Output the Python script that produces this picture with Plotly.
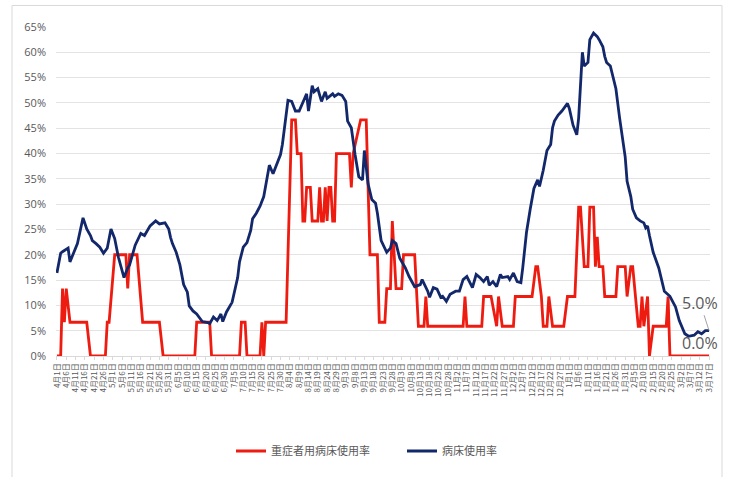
import pandas as pd
import plotly.graph_objects as go

START = "2021-04-01"

# 病床使用率 (navy) : day offset from 4/1, value in %
bed_days = [0, 2, 3, 6, 7, 9, 11, 14, 16, 18, 19, 21, 23, 25, 27, 29, 31, 33, 35, 36, 38, 39, 42, 45, 47, 50, 53, 55, 58,
            60, 61, 62, 64, 66, 68, 70, 71, 73, 75, 77, 78, 81, 82, 84, 86, 88, 89, 91, 94, 97, 98, 100, 102, 104, 105,
            107, 109, 111, 112, 114, 116, 118, 120, 121, 123, 124, 126, 128, 130, 132, 134, 135, 137, 138, 140, 142,
            144, 145, 148, 149, 151, 153, 155, 156, 158, 160, 162, 164, 165, 167, 169, 171, 172, 174, 177, 179, 180,
            182, 184, 187, 189, 192, 195, 196, 199, 200, 202, 204, 206, 207, 209, 211, 214, 216, 218, 220, 223, 225,
            227, 229, 231, 232, 234, 236, 238, 239, 242, 243, 245, 247, 249, 250, 252, 254, 256, 258, 259, 261, 263,
            265, 266, 267, 269, 271, 274, 275, 277, 279, 280, 282, 283, 285, 286, 288, 290, 291, 293, 294, 295, 297,
            300, 302, 305, 306, 308, 309, 311, 313, 315, 316, 317, 318, 320, 323, 325, 326, 329, 332, 334, 337, 339,
            341, 342, 344, 346, 348, 350]
bed_vals = [16.4, 20.3, 20.6, 21.3, 18.6, 20.5, 22.2, 27.3, 25.1, 23.8, 22.8, 22.2, 21.5, 20.3, 21.3, 25.1, 23.2, 19.5,
            16.6, 15.5, 17.4, 18.0, 21.9, 24.2, 23.8, 25.7, 26.7, 26.1, 26.3,
            25.1, 23.4, 22.2, 20.5, 18.0, 14.1, 12.6, 9.9, 8.9, 8.3, 7.4, 6.8, 6.6, 6.4, 7.7, 7.0, 8.3, 6.8, 8.7, 10.6,
            15.5, 18.6, 21.5, 22.4, 24.8, 27.1,
            28.2, 29.6, 31.5, 33.5, 37.7, 36.0, 37.9, 39.8, 41.8, 47.0, 50.5, 50.3, 48.4, 48.4, 50.3, 51.8, 48.4, 53.4,
            52.2, 52.8, 50.3,
            52.2, 50.9, 51.8, 51.3, 51.8, 51.5, 50.3, 46.4, 45.1, 39.8, 35.4, 34.8, 40.6, 34.0, 30.9, 30.2, 28.2, 22.8,
            20.5, 21.3, 22.8,
            22.2, 19.3, 17.4, 15.7, 13.7, 14.1, 15.1, 12.8, 11.6, 13.5, 13.2, 11.6, 11.8, 10.8, 12.2, 12.8, 12.8, 15.1,
            15.7, 13.5, 16.1,
            15.5, 14.7, 15.7, 14.0, 14.7, 13.7, 16.1, 15.5, 15.7, 15.1, 16.4, 14.7, 14.5, 17.4, 24.4, 29.0, 33.1, 34.8,
            33.5, 36.7, 40.6,
            41.8, 45.1, 46.4, 47.6, 48.4, 49.9, 48.9, 45.6, 43.7, 47.0, 60.0, 57.3, 58.0, 62.5, 63.8, 63.1, 62.5, 61.1,
            59.2, 58.0, 57.3,
            52.8, 47.0, 39.3, 34.5, 31.5, 29.0, 27.3, 26.7, 26.3, 25.3, 25.7, 23.8, 20.5, 17.4, 14.5, 12.8, 11.8, 9.7,
            7.0, 4.4, 3.9,
            4.1, 4.1, 4.8, 4.4, 5.0, 5.0]

# 重症者用病床使用率 (red)
icu_days = [0, 2, 3, 4, 5, 7, 16, 18, 26, 27, 28, 31, 37, 38, 39, 43, 46, 55, 57, 74, 75, 82, 83, 98, 99, 101, 102,
            109, 110, 111, 112, 123, 126, 128, 129, 131, 132, 133, 134, 136, 137, 140, 141, 142, 143, 144, 145, 146,
            147, 148, 149, 150, 157, 158, 159, 163, 166, 168, 172, 173, 176, 177, 179, 180, 182, 185, 186, 192, 194,
            197, 198, 199, 218, 219, 220, 228, 229, 233, 236, 237, 239, 245, 246, 255, 257, 258, 260, 261, 263, 264,
            266, 272, 274, 278, 280, 281, 283, 285, 286, 288, 289, 290, 291, 293, 294, 300, 301, 305, 306, 308, 309,
            312, 313, 314, 315, 317, 318, 320, 327, 328, 329, 350]
icu_vals = [0, 0, 13.33, 6.67, 13.33, 6.67, 6.67, 0, 0, 6.67, 6.67, 20, 20, 13.33, 20, 20, 6.67, 6.67, 0, 0, 6.67,
            6.67, 0, 0, 6.67, 6.67, 0,
            0, 6.67, 0, 6.67, 6.67, 46.67, 46.67, 40, 40, 26.67, 26.67, 33.33, 33.33, 26.67, 26.67, 33.33, 26.67,
            26.67, 33.33, 26.67, 33.33,
            33.33, 26.67, 26.67, 40, 40, 33.33, 40, 46.67, 46.67, 20, 20, 6.67, 6.67, 13.33, 13.33, 26.67, 13.33,
            13.33, 20, 20, 5.88,
            5.88, 11.76, 5.88, 5.88, 11.76, 5.88, 5.88, 11.76, 11.76, 5.88, 11.76, 5.88, 5.88, 11.76, 11.76, 17.65,
            17.65, 11.76, 5.88, 5.88, 11.76,
            5.88, 5.88, 11.76, 11.76, 29.41, 29.41, 17.65, 17.65, 29.41, 29.41, 17.65, 23.53, 17.65, 17.65, 11.76,
            11.76, 17.65, 17.65, 11.76, 17.65, 17.65,
            5.88, 5.88, 11.76, 5.88, 11.76, 0, 5.88, 5.88, 11.76, 0, 0]

series_names = ["重症者用病床使用率", "病床使用率"]
end_labels = ["0.0%", "5.0%"]

base = pd.Timestamp(START)
bed_x = base + pd.to_timedelta(bed_days, unit="D")
icu_x = base + pd.to_timedelta(icu_days, unit="D")

RED = "#ee1c10"
NAVY = "#13286b"
GREY = "#595959"
FONT = "Noto Sans CJK JP"

W, H = 733, 477
L, R, T, B = 56, 23, 27, 114
PH = H - T - B
PW = W - L - R


def py(px):
    return (H - B - px) / PH


def pxx(px):
    return (px - L) / PW


fig = go.Figure()
fig.add_trace(go.Scatter(x=icu_x, y=icu_vals, mode="lines", name=series_names[0],
                         line=dict(color=RED, width=2.8)))
fig.add_trace(go.Scatter(x=bed_x, y=bed_vals, mode="lines", name=series_names[1],
                         line=dict(color=NAVY, width=2.8)))

fig.add_annotation(x=bed_x[-1], y=bed_vals[-1], text=end_labels[1], showarrow=True, arrowhead=0,
                   arrowwidth=0.8, arrowcolor="#8c8c8c", ax=-9, ay=-28,
                   font=dict(family="Open Sans", size=16, color=GREY))
fig.add_annotation(x=icu_x[-1], y=icu_vals[-1], text=end_labels[0], showarrow=False,
                   xshift=-9, yshift=13,
                   font=dict(family="Open Sans", size=16, color=GREY))

fig.add_shape(type="rect", xref="paper", yref="paper", x0=pxx(12), x1=pxx(722), y0=py(500), y1=py(5),
              line=dict(color="#d9d9d9", width=1), fillcolor="rgba(0,0,0,0)", layer="below")

fig.update_layout(
    width=W, height=H,
    margin=dict(l=L, r=R, t=T, b=B),
    paper_bgcolor="white", plot_bgcolor="white",
    font=dict(family=FONT, color=GREY),
    showlegend=True,
    legend=dict(orientation="h", x=pxx(231), xanchor="left", y=py(460), yanchor="middle",
                font=dict(family=FONT, size=11, color=GREY), itemwidth=30,
                entrywidth=126, entrywidthmode="pixels"),
    xaxis=dict(
        type="date",
        range=[base - pd.Timedelta(hours=12), base + pd.Timedelta(days=350, hours=12)],
        tick0=START, dtick=5 * 86400000, tickformat="%-m月%-d日",
        tickangle=-90, tickfont=dict(family=FONT, size=8, color=GREY),
        showgrid=False, showline=True, linecolor="#d9d9d9", linewidth=1,
        ticks="outside", ticklen=3, tickcolor="#d9d9d9", automargin=False,
    ),
    yaxis=dict(
        range=[0, 65], dtick=5, ticksuffix="%",
        tickfont=dict(family="Open Sans", size=11, color=GREY),
        ticklabelstandoff=9,
        showgrid=True, gridcolor="#e3e3e3", gridwidth=1, zeroline=False,
        showline=False, automargin=False,
    ),
)

fig.write_html("out.html")
